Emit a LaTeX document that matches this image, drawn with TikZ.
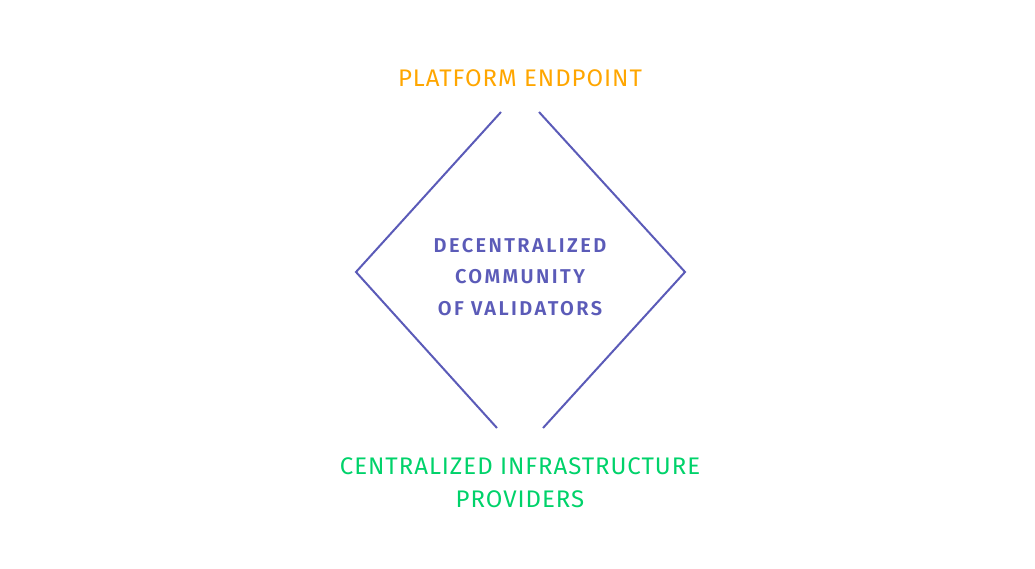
\documentclass[tikz,border=0pt]{standalone}
\usepackage{fontspec}
\setmainfont{Fira Sans}
\newfontfamily\widesans[LetterSpace=4]{Fira Sans}
\newfontfamily\widebold[LetterSpace=12]{Fira Sans SemiBold}
\usepackage{xcolor}
\definecolor{endorange}{RGB}{255,166,0}
\definecolor{valpurple}{RGB}{91,91,184}
\definecolor{infragreen}{RGB}{0,210,106}
\usepackage{tikz}
\usetikzlibrary{positioning}

\begin{document}
\begin{tikzpicture}[x=1pt,y=-1pt,
      lbl/.style={align=center,inner sep=0pt,font=\widesans\fontsize{24}{33}\selectfont},
      core/.style={align=center,inner sep=0pt,text=valpurple,font=\widebold\fontsize{20}{31.5}\selectfont},
      edge/.style={draw=valpurple,line width=2pt}]
    \useasboundingbox (0,0) rectangle (1035,569);
    % labels
    \node[lbl,text=endorange] (endpoint) at (520,78) {PLATFORM ENDPOINT};
    \node[core] (community) at (520,277) {DECENTRALIZED\\COMMUNITY\\OF VALIDATORS};
    \node[lbl,text=infragreen] (infra) at (520,483) {CENTRALIZED INFRASTRUCTURE\\PROVIDERS};
    % diamond corners
    \coordinate (L) at (356,272);
    \coordinate (R) at (685,272);
    \coordinate (TL) at (501,112);
    \coordinate (TR) at (539,112);
    \coordinate (BL) at (497,428);
    \coordinate (BR) at (543,428);
    % diamond sides
    \draw[edge] (TL) -- (L) -- (BL);
    \draw[edge] (TR) -- (R) -- (BR);
  \end{tikzpicture}
\end{document}
